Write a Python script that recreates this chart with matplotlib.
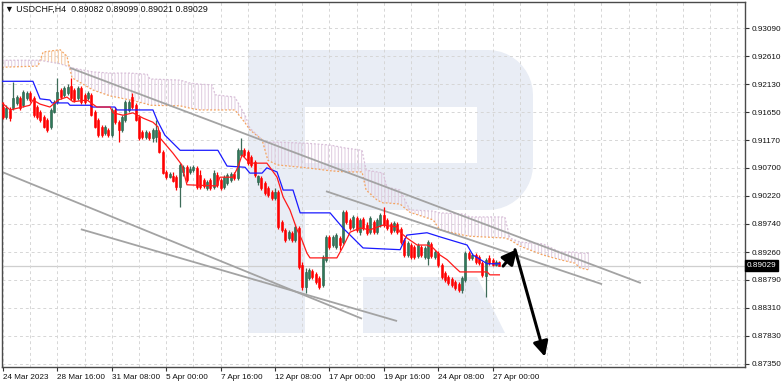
import numpy as np
import matplotlib
matplotlib.use("Agg")
import matplotlib.pyplot as plt
from matplotlib.patches import Polygon

# ---------------- data ----------------
open_ = [0.9174, 0.9157, 0.9169, 0.9172, 0.9181, 0.9189, 0.9177, 0.9189, 0.9198, 0.9189,
         0.9174, 0.9165, 0.9157, 0.9152, 0.9140, 0.9165, 0.9183, 0.9203, 0.9195, 0.9198,
         0.9210, 0.9203, 0.9189, 0.9207, 0.9195, 0.9189, 0.9195, 0.9165, 0.9152, 0.9140,
         0.9130, 0.9135, 0.9126, 0.9169, 0.9148, 0.9135, 0.9152, 0.9169, 0.9191, 0.9177,
         0.9157, 0.9131, 0.9123, 0.9130, 0.9121, 0.9123, 0.9131, 0.9097, 0.9063, 0.9054,
         0.9056, 0.9054, 0.9037, 0.9063, 0.9071, 0.9063, 0.9066, 0.9070, 0.9058, 0.9049,
         0.9036, 0.9049, 0.9037, 0.9058, 0.9049, 0.9037, 0.9044, 0.9049, 0.9059, 0.9053,
         0.9092, 0.9100, 0.9097, 0.9089, 0.9080, 0.9046, 0.9053, 0.9044, 0.9036, 0.9029,
         0.9018, 0.9029, 0.8977, 0.8964, 0.8950, 0.8959, 0.8947, 0.8967, 0.8904, 0.8866,
         0.8881, 0.8894, 0.8889, 0.8881, 0.8870, 0.8913, 0.8952, 0.8938, 0.8935, 0.8950,
         0.8943, 0.8994, 0.8981, 0.8969, 0.8984, 0.8960, 0.8982, 0.8972, 0.8960, 0.8977,
         0.8960, 0.8972, 0.8989, 0.8981, 0.8974, 0.8964, 0.8974, 0.8965, 0.8947, 0.8921,
         0.8938, 0.8935, 0.8919, 0.8935, 0.8918, 0.8916, 0.8940, 0.8918, 0.8924, 0.8904,
         0.8890, 0.8883, 0.8880, 0.8875, 0.8871, 0.8861, 0.8878, 0.8924, 0.8916, 0.8921,
         0.8918, 0.8907, 0.8885, 0.8916, 0.8913, 0.8904, 0.89082]
high = [0.9183, 0.9177, 0.9174, 0.9217, 0.9195, 0.9193, 0.9203, 0.9201, 0.9201, 0.9193,
        0.9177, 0.9169, 0.9160, 0.9155, 0.9172, 0.9186, 0.9224, 0.9207, 0.9210, 0.9213,
        0.9224, 0.9207, 0.9210, 0.9210, 0.9198, 0.9201, 0.9198, 0.9169, 0.9155, 0.9143,
        0.9143, 0.9138, 0.9172, 0.9174, 0.9152, 0.9160, 0.9186, 0.9186, 0.9198, 0.9181,
        0.9160, 0.9135, 0.9135, 0.9133, 0.9138, 0.9152, 0.9135, 0.9100, 0.9066, 0.9063,
        0.9063, 0.9058, 0.9078, 0.9075, 0.9075, 0.9073, 0.9075, 0.9073, 0.9066, 0.9053,
        0.9049, 0.9053, 0.9066, 0.9063, 0.9053, 0.9058, 0.9061, 0.9063, 0.9063, 0.9104,
        0.9121, 0.9104, 0.9100, 0.9092, 0.9083, 0.9058, 0.9056, 0.9048, 0.9039, 0.9032,
        0.9036, 0.9032, 0.8981, 0.8967, 0.8964, 0.8962, 0.8972, 0.8970, 0.8909, 0.8899,
        0.8899, 0.8897, 0.8892, 0.8885, 0.8921, 0.8955, 0.8955, 0.8955, 0.8959, 0.8953,
        0.8998, 0.8998, 0.8984, 0.8989, 0.8988, 0.8984, 0.8986, 0.8977, 0.8988, 0.8981,
        0.8984, 0.8993, 0.9003, 0.8984, 0.8977, 0.8979, 0.8977, 0.8969, 0.8950, 0.8945,
        0.8942, 0.8938, 0.8942, 0.8938, 0.8936, 0.8947, 0.8943, 0.8930, 0.8928, 0.8907,
        0.8894, 0.8887, 0.8883, 0.8878, 0.8875, 0.8885, 0.8928, 0.8928, 0.8924, 0.8924,
        0.8921, 0.8911, 0.8916, 0.8921, 0.8916, 0.8913, 0.89099]
low = [0.9153, 0.9153, 0.9150, 0.9169, 0.9177, 0.9169, 0.9174, 0.9186, 0.9183, 0.9157,
       0.9153, 0.9148, 0.9138, 0.9131, 0.9136, 0.9164, 0.9179, 0.9188, 0.9191, 0.9195,
       0.9186, 0.9183, 0.9186, 0.9179, 0.9179, 0.9186, 0.9159, 0.9138, 0.9123, 0.9123,
       0.9126, 0.9123, 0.9123, 0.9145, 0.9114, 0.9131, 0.9148, 0.9165, 0.9171, 0.9150,
       0.9118, 0.9119, 0.9119, 0.9118, 0.9114, 0.9114, 0.9095, 0.9059, 0.9051, 0.9053,
       0.9046, 0.9032, 0.9003, 0.9056, 0.9046, 0.9059, 0.9063, 0.9034, 0.9034, 0.9036,
       0.9032, 0.9032, 0.9034, 0.9037, 0.9032, 0.9034, 0.9041, 0.9046, 0.9049, 0.9049,
       0.9089, 0.9089, 0.9075, 0.9071, 0.9054, 0.9041, 0.9032, 0.9024, 0.9020, 0.9015,
       0.9015, 0.8965, 0.8960, 0.8943, 0.8947, 0.8943, 0.8943, 0.8897, 0.8861, 0.8856,
       0.8878, 0.8880, 0.8871, 0.8863, 0.8866, 0.8909, 0.8931, 0.8935, 0.8931, 0.8930,
       0.8940, 0.8974, 0.8964, 0.8965, 0.8960, 0.8955, 0.8964, 0.8955, 0.8957, 0.8957,
       0.8957, 0.8969, 0.8969, 0.8964, 0.8957, 0.8960, 0.8957, 0.8940, 0.8918, 0.8918,
       0.8914, 0.8914, 0.8916, 0.8918, 0.8914, 0.8904, 0.8916, 0.8914, 0.8900, 0.8880,
       0.8875, 0.8870, 0.8866, 0.8861, 0.8858, 0.8856, 0.8875, 0.8913, 0.8913, 0.8906,
       0.8904, 0.8883, 0.8849, 0.8904, 0.8902, 0.8902, 0.89021]
close = [0.9157, 0.9172, 0.9155, 0.9189, 0.9191, 0.9172, 0.9200, 0.9198, 0.9186, 0.9160,
         0.9157, 0.9152, 0.9140, 0.9135, 0.9169, 0.9183, 0.9200, 0.9191, 0.9207, 0.9208,
         0.9189, 0.9186, 0.9207, 0.9183, 0.9183, 0.9198, 0.9160, 0.9140, 0.9126, 0.9126,
         0.9140, 0.9126, 0.9169, 0.9148, 0.9135, 0.9157, 0.9183, 0.9183, 0.9174, 0.9152,
         0.9121, 0.9123, 0.9131, 0.9121, 0.9135, 0.9135, 0.9097, 0.9061, 0.9054, 0.9059,
         0.9048, 0.9037, 0.9075, 0.9071, 0.9049, 0.9068, 0.9071, 0.9037, 0.9037, 0.9039,
         0.9046, 0.9036, 0.9061, 0.9041, 0.9036, 0.9054, 0.9058, 0.9059, 0.9053, 0.9100,
         0.9100, 0.9092, 0.9078, 0.9075, 0.9058, 0.9056, 0.9036, 0.9027, 0.9024, 0.9018,
         0.9029, 0.8969, 0.8964, 0.8947, 0.8960, 0.8947, 0.8969, 0.8900, 0.8866, 0.8892,
         0.8895, 0.8883, 0.8875, 0.8866, 0.8918, 0.8952, 0.8935, 0.8952, 0.8955, 0.8938,
         0.8994, 0.8977, 0.8967, 0.8986, 0.8964, 0.8981, 0.8967, 0.8959, 0.8984, 0.8960,
         0.8981, 0.8989, 0.8972, 0.8967, 0.8960, 0.8976, 0.8960, 0.8943, 0.8921, 0.8942,
         0.8918, 0.8918, 0.8938, 0.8921, 0.8933, 0.8943, 0.8919, 0.8926, 0.8904, 0.8883,
         0.8878, 0.8873, 0.8870, 0.8865, 0.8861, 0.8881, 0.8924, 0.8916, 0.8921, 0.8909,
         0.8907, 0.8887, 0.8913, 0.8907, 0.8904, 0.8909, 0.89029]

# Ichimoku lines (bar index, price)
tenkan_x = [-0.3, 2.1, 7.9, 8.8, 10.9, 13.8, 16.2, 18.8, 20.6, 24.7, 27.6, 31.5, 32.4, 35.3,
            38.2, 41.2, 44.1, 45.6, 46.2, 50.0, 52.6, 54.1, 62.9, 63.8, 67.6, 69.1, 70.3,
            72.6, 77.6, 78.5, 80.6, 82.4, 84.4, 86.5, 87.9, 89.4, 90.3, 98.2, 100.0, 102.1,
            105.0, 107.9, 111.8, 115.9, 116.8, 118.8, 121.8, 124.7, 126.5, 128.5, 130.6,
            132.9, 134.4, 142.4, 143.2, 146.0]
tenkan_y = [0.9181, 0.9169, 0.9177, 0.9186, 0.9179, 0.9174, 0.9186, 0.9191, 0.9183, 0.9186,
            0.9174, 0.9174, 0.9164, 0.9160, 0.9164, 0.9155, 0.9148, 0.9140, 0.9121, 0.9095,
            0.9075, 0.9041, 0.9039, 0.9054, 0.9054, 0.9071, 0.9092, 0.9078, 0.9078, 0.9071,
            0.9054, 0.9020, 0.8998, 0.8964, 0.8947, 0.8924, 0.8916, 0.8916, 0.8935, 0.8960,
            0.8967, 0.8964, 0.8972, 0.8969, 0.8960, 0.8950, 0.8938, 0.8938, 0.8933, 0.8921,
            0.8913, 0.8900, 0.8892, 0.8892, 0.8887, 0.8887]
kijun_x = [-0.3, 8.8, 10.9, 13.8, 14.4, 19.1, 19.7, 25.6, 26.2, 32.9, 33.5, 44.1, 45.3, 47.6,
           52.1, 63.2, 65.9, 71.2, 72.6, 76.2, 77.6, 80.6, 82.4, 85.3, 87.4, 96.2, 100.0,
           102.1, 105.9, 116.8, 118.8, 124.7, 128.5, 136.5, 138.2, 142.4, 146.0]
kijun_y = [0.9218, 0.9218, 0.9188, 0.9186, 0.9181, 0.9181, 0.9177, 0.9177, 0.9174, 0.9174,
           0.9169, 0.9169, 0.9152, 0.9126, 0.9100, 0.9100, 0.9073, 0.9071, 0.9061, 0.9061,
           0.9070, 0.9063, 0.9032, 0.9032, 0.8993, 0.8993, 0.8967, 0.8955, 0.8933, 0.8930,
           0.8955, 0.8959, 0.8952, 0.8938, 0.8921, 0.8906, 0.8906]
cloud_x = [-0.3, 10.3, 11.8, 16.8, 18.8, 20.3, 26.5, 31.5, 37.4, 42.4, 43.2, 52.1, 55.0,
           57.9, 61.5, 62.4, 68.2, 71.2, 72.6, 76.2, 77.9, 80.6, 89.4, 96.2, 100.6, 105.6,
           106.8, 110.0, 111.8, 112.9, 116.8, 118.2, 119.7, 126.5, 128.5, 135.3, 137.4,
           147.6, 149.1, 152.1, 158.8, 163.8, 168.2, 169.7, 172.6]
span_a = [0.9242, 0.9244, 0.9268, 0.9272, 0.9261, 0.9224, 0.9203, 0.9193, 0.9186, 0.9179,
          0.9177, 0.9176, 0.9172, 0.9169, 0.9169, 0.9169, 0.9169, 0.9147, 0.9135, 0.9118,
          0.9083, 0.9075, 0.9070, 0.9065, 0.9063, 0.9063, 0.9032, 0.9015, 0.9010, 0.9010,
          0.9008, 0.9001, 0.8994, 0.8981, 0.8964, 0.8955, 0.8953, 0.8950, 0.8947, 0.8936,
          0.8921, 0.8913, 0.8907, 0.8899, 0.8895]
span_b = [0.9254, 0.9254, 0.9253, 0.9248, 0.9244, 0.9241, 0.9234, 0.9232, 0.9232, 0.9230,
          0.9222, 0.9220, 0.9215, 0.9213, 0.9212, 0.9195, 0.9191, 0.9160, 0.9138, 0.9118,
          0.9114, 0.9114, 0.9112, 0.9109, 0.9104, 0.9100, 0.9066, 0.9063, 0.9061, 0.9037,
          0.9032, 0.9015, 0.8998, 0.8996, 0.8993, 0.8991, 0.8986, 0.8986, 0.8950, 0.8943,
          0.8940, 0.8926, 0.8926, 0.8924, 0.8924]

# drawn trendlines: (x0, y0, x1, y1) in bar index / price
trend_lines = [(19.7, 0.9241, 187.6, 0.8873),
               (95.0, 0.9030, 176.2, 0.8871),
               (-0.3, 0.9063, 105.6, 0.8812),
               (22.9, 0.8965, 115.9, 0.8808)]
arrow_up = (147.1, 0.8902, 151.2, 0.8931)
arrow_down = (150.6, 0.8930, 159.4, 0.8747)

x_tick_pos = [0, 16, 32, 48, 64, 80, 96, 112, 128, 144]
x_tick_labels = ["24 Mar 2023", "28 Mar 16:00", "31 Mar 08:00", "5 Apr 00:00", "7 Apr 16:00",
                 "12 Apr 08:00", "17 Apr 00:00", "19 Apr 16:00", "24 Apr 08:00", "27 Apr 00:00"]
y_ticks = [0.93090, 0.92610, 0.92130, 0.91650, 0.91170, 0.90700, 0.90220, 0.89740,
           0.89260, 0.88790, 0.88310, 0.87830, 0.87350]
title = "\u25BC USDCHF,H4  0.89082 0.89099 0.89021 0.89029"
last_price = 0.89029

# ---------------- figure ----------------
plt.rcParams['font.family'] = ['Liberation Sans', 'DejaVu Sans']
W, H = 782, 385
fig = plt.figure(figsize=(W / 100, H / 100), dpi=100)
fig.patch.set_facecolor('white')
L, R, T, B = 2, 745, 2, 367
ax = fig.add_axes([L / W, (H - B) / H, (R - L) / W, (B - T) / H])
ax.set_xlim(-0.294, 218.24)
ax.set_ylim(0.87294, 0.93536)


def af(px, py):
    return ((px - L) / (R - L), (B - py) / (B - T))


# watermark logo (decoration)
wm = '#e9edf5'
r = 45
pts = [af(248, 50)]
for t in np.linspace(np.pi / 2, 0, 12):
    pts.append(af(533 - r + r * np.cos(t), 50 + r - r * np.sin(t)))
for t in np.linspace(0, -np.pi / 2, 12):
    pts.append(af(533 - r + r * np.cos(t), 210 - r - r * np.sin(t)))
pts.append(af(248, 210))
ax.add_patch(Polygon(pts, closed=True, transform=ax.transAxes, facecolor=wm,
                     edgecolor='none', zorder=0.1))
ax.add_patch(Polygon([af(305, 107), af(477, 107), af(477, 163), af(305, 163)],
                     transform=ax.transAxes, facecolor='white', edgecolor='none', zorder=0.15))
ax.add_patch(Polygon([af(248, 50), af(305, 50), af(305, 333), af(248, 333)],
                     transform=ax.transAxes, facecolor=wm, edgecolor='none', zorder=0.1))
ax.add_patch(Polygon([af(363, 277), af(477, 277), af(505, 333), af(363, 333)],
                     transform=ax.transAxes, facecolor=wm, edgecolor='none', zorder=0.1))

# grid
ax.set_axisbelow(True)
ax.set_xticks(np.arange(8, 220, 8), minor=True)
ax.grid(True, which='both', axis='x', color='#d6d6d6', linestyle=(0, (3, 3)), lw=0.7, zorder=0.3)
ax.grid(True, which='major', axis='y', color='#d6d6d6', linestyle=(0, (3, 3)), lw=0.7, zorder=0.3)

# current price line
ax.axhline(last_price, color='#cfcfcf', lw=0.9, zorder=0.4)

# cloud
plt.rcParams['hatch.linewidth'] = 0.7
cx = np.array(cloud_x)
sa = np.array(span_a)
sb = np.array(span_b)
ax.fill_between(cx, sa, sb, where=sa >= sb, interpolate=True, facecolor='none',
                edgecolor='#f3c59c', hatch='|||||', lw=0, zorder=1)
ax.fill_between(cx, sa, sb, where=sb > sa, interpolate=True, facecolor='none',
                edgecolor='#dfcadf', hatch='|||||', lw=0, zorder=1)
ax.plot(cx, sa, color='#f4a460', lw=0.9, ls=(0, (1.5, 1.5)), zorder=1.2)
ax.plot(cx, sb, color='#d8bfd8', lw=0.9, ls=(0, (1.5, 1.5)), zorder=1.2)

# trend lines
for (x0, y0, x1, y1) in trend_lines:
    ax.plot([x0, x1], [y0, y1], color='#a3a3a3', lw=1.3, zorder=2, solid_capstyle='butt')

# candles
o = np.array(open_); h = np.array(high); lo = np.array(low); c = np.array(close)
xi = np.arange(len(o))
up = c >= o
green = '#2f7a5a'
red = '#ff0000'
ax.vlines(xi[up], lo[up], h[up], color='#3d6b58', lw=0.9, zorder=3)
ax.vlines(xi[~up], lo[~up], h[~up], color=red, lw=0.9, zorder=3)
body_h = np.maximum(np.abs(c - o), 0.00008)
ax.bar(xi[up], body_h[up], bottom=o[up], width=0.62, color=green, edgecolor='#2a5a46',
       lw=0.4, zorder=3.1)
ax.bar(xi[~up], body_h[~up], bottom=c[~up], width=0.62, color=red, edgecolor=red,
       lw=0.4, zorder=3.1)

# ichimoku lines
ax.plot(kijun_x, kijun_y, color='#1a1aff', lw=0.9, zorder=4)
ax.plot(tenkan_x, tenkan_y, color='#ff1a1a', lw=0.9, zorder=4)

# arrows
for (x0, y0, x1, y1) in (arrow_up, arrow_down):
    ax.annotate('', xy=(x1, y1), xytext=(x0, y0),
                arrowprops=dict(arrowstyle='-|>,head_length=0.9,head_width=0.45',
                                color='black', lw=2.2, shrinkA=0, shrinkB=0),
                zorder=6)

# axes styling
for s in ax.spines.values():
    s.set_color('#4a4a4a')
    s.set_linewidth(1.0)
ax.yaxis.tick_right()
ax.set_yticks(y_ticks)
ax.set_yticklabels([f"{v:.5f}" for v in y_ticks])
ax.set_xticks(x_tick_pos)
ax.set_xticklabels(x_tick_labels, ha='left')
ax.tick_params(axis='both', which='major', direction='out', length=3, width=0.8,
               color='#333333', labelsize=5.9, labelcolor='#111111')
ax.tick_params(axis='x', which='major', pad=2)
ax.tick_params(axis='y', which='major', pad=1.5)
ax.tick_params(axis='x', which='minor', length=0)

ax.text(0.004, 0.992, title, transform=ax.transAxes, ha='left', va='top',
        fontsize=6.4, color='#111111', zorder=7)

ax.text(1.002, last_price, f"{last_price:.5f}", transform=ax.get_yaxis_transform(),
        ha='left', va='center', fontsize=5.9, color='white', zorder=8, clip_on=False,
        bbox=dict(boxstyle='square,pad=0.2', facecolor='black', edgecolor='black'))

fig.savefig('out.png', dpi=100, facecolor='white')
